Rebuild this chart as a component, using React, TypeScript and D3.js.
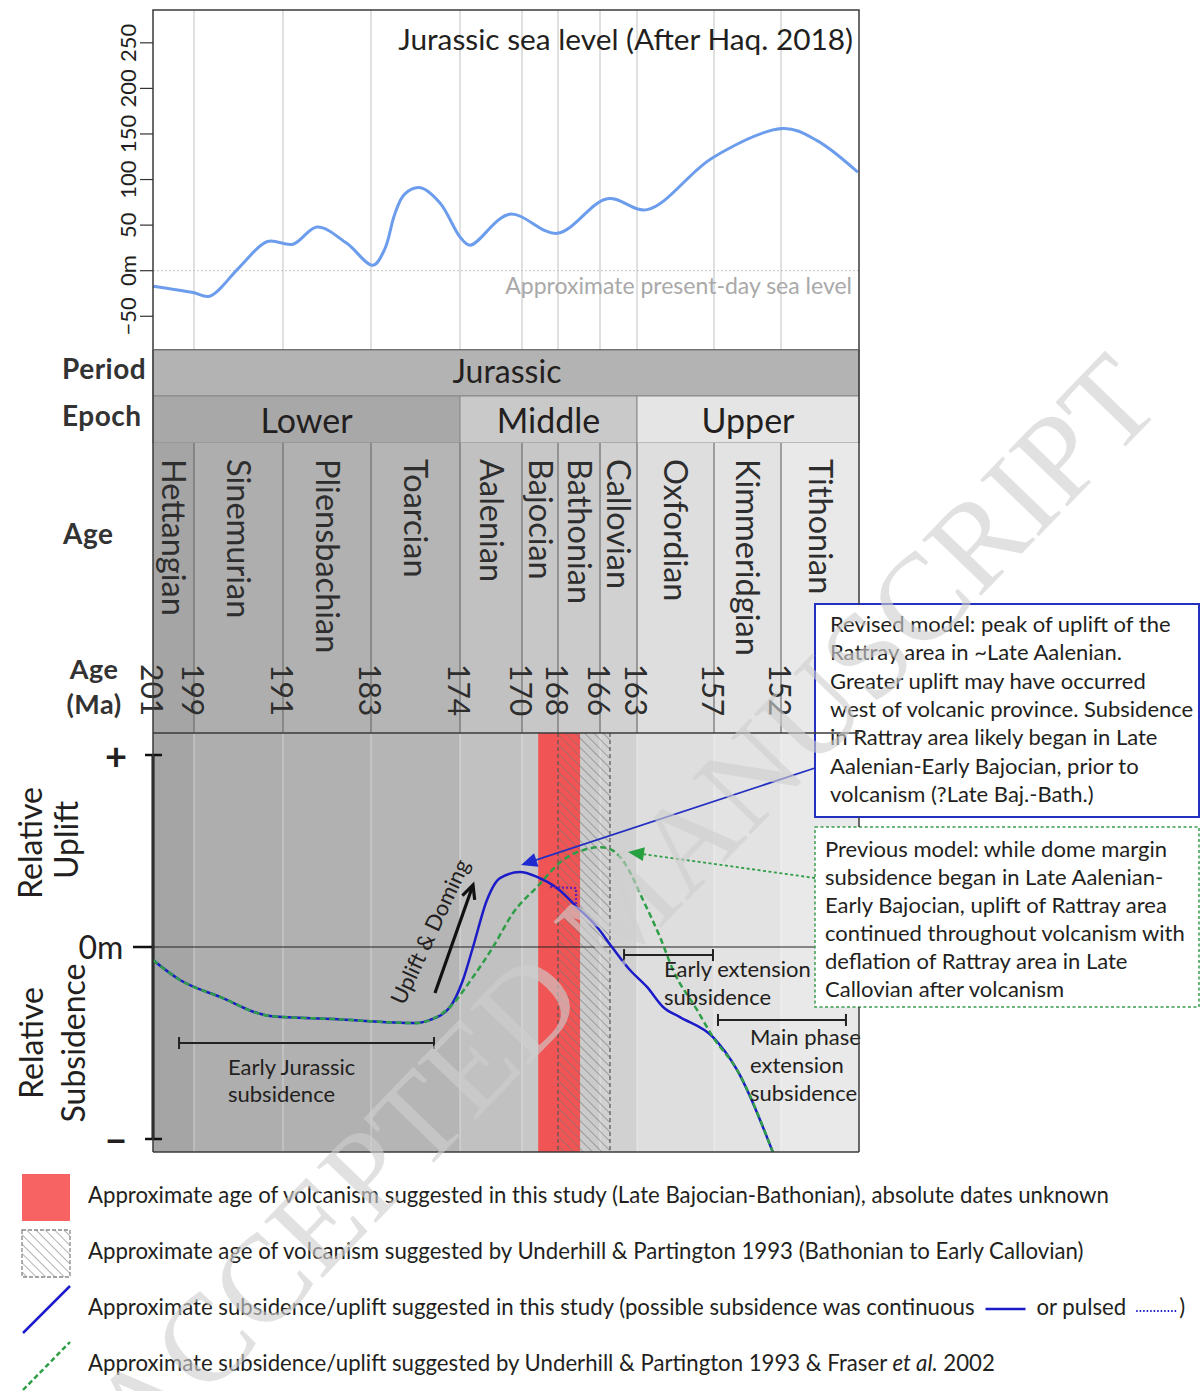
import React, { useEffect, useRef } from "react";
import * as d3 from "d3";

// ---------------- Data ----------------
const stageNames = ["Hettangian", "Sinemurian", "Pliensbachian", "Toarcian", "Aalenian", "Bajocian", "Bathonian", "Callovian", "Oxfordian", "Kimmeridgian", "Tithonian"];
const stageBaseMa = [201, 199, 191, 183, 174, 170, 168, 166, 163, 157, 152];
const jurassicTopMa = 145;
const epochNames = ["Lower", "Middle", "Upper"];
const epochBaseMa = [201, 174, 163];
const epochTopMa = [174, 163, 145];
const ageLabelsMa = [201, 199, 191, 183, 174, 170, 168, 166, 163, 157, 152];

// Haq 2018 sea level (m) vs age (Ma)
const seaLevelMa = [201, 199.05, 197.6, 194.9, 192.4, 190.1, 187.9, 185.2, 182.8, 181.6, 180.6, 179.6, 178.0, 176.0, 174.0, 173.35, 170.8, 168.05, 165.4, 162.2, 157.1, 151.8, 148.8, 145.1];
const seaLevelM = [-17, -24, -28, 4, 32, 29, 48, 30, 6, 24, 62, 84, 91, 74, 37, 28, 62, 41, 79, 67, 124, 156, 143, 108];
const seaLevelTicks = [-50, 0, 50, 100, 150, 200, 250];
const seaLevelTickLabels = ["\u221250", "0m", "50", "100", "150", "200", "250"];

// Relative uplift (+1 = top, -1 = bottom) — this study
const revisedMa = [201, 199.68, 196.66, 192.17, 186.45, 178.35, 177.03, 175.01, 173.81, 173.16, 172.26, 171.42, 170.13, 169.17, 168.06, 167.1, 166.14, 165.03, 163.57, 162.22, 160.97, 159.65, 157.08, 155.28, 152.6];
const revisedUplift = [-0.068, -0.172, -0.26, -0.359, -0.375, -0.396, -0.38, -0.3125, -0.172, 0, 0.245, 0.359, 0.39, 0.365, 0.307, 0.208, 0.104, 0, -0.12, -0.208, -0.3125, -0.365, -0.469, -0.64, -1.07];
// Previous model (Underhill & Partington 1993, Fraser et al. 2002)
const previousMa = [201, 199.68, 196.66, 192.17, 186.45, 178.35, 177.03, 175.01, 173.16, 171.87, 170.58, 169.17, 167.76, 166.62, 166, 165.03, 163.81, 162.53, 161.21, 160.19, 158.32, 157.08, 155.28, 152.6];
const previousUplift = [-0.068, -0.172, -0.26, -0.359, -0.375, -0.396, -0.38, -0.3125, -0.156, 0, 0.177, 0.3125, 0.453, 0.51, 0.52, 0.505, 0.417, 0.245, 0.052, -0.12, -0.328, -0.469, -0.64, -1.07];
// Pulsed alternative
const pulsedMa = [168.44, 167.14, 167.14];
const pulsedUplift = [0.3125, 0.307, 0.219];

const volcanismThisStudyMa = [169.1, 166.95];
const volcanismUnderhillMa = [168, 165.19];

const earlyJurassicSubsMa = [199.73, 176.63];
const earlyExtensionMa = [164.05, 157.08];
const mainPhaseMa = [156.7, 146.17];

const revisedBoxLines = [
  "Revised model: peak of uplift of the",
  "Rattray area in ~Late Aalenian.",
  "Greater uplift may have occurred",
  "west of volcanic province. Subsidence",
  "in Rattray area likely began in Late",
  "Aalenian-Early Bajocian, prior to",
  "volcanism (?Late Baj.-Bath.)",
];
const previousBoxLines = [
  "Previous model: while dome margin",
  "subsidence began in Late Aalenian-",
  "Early Bajocian, uplift of Rattray area",
  "continued throughout volcanism with",
  "deflation of Rattray area in Late",
  "Callovian after volcanism",
];

// ---------------- Style ----------------
const FONT = "Lato, 'Open Sans', 'DejaVu Sans', sans-serif";
const TXT = "#231f20";
const stageFills = ["#a5a5a5", "#aeaeae", "#b1b1b1", "#b5b5b5", "#c1c1c1", "#c7c7c7", "#cbcbcb", "#d1d1d1", "#dedede", "#e3e3e3", "#e9e9e9"];
const epochFills = ["#a8a8a8", "#c9c9c9", "#e5e5e5"];
const BLUE = "#1b1bc8";
const GREEN = "#2f9e48";
const RED = "#f05454";

export default function App() {
  const ref = useRef<SVGSVGElement>(null);

  useEffect(() => {
    const svg = d3.select(ref.current!);
    svg.selectAll("*").remove();

    const stageEdgesPx = [153, 194, 283, 371, 460, 522, 558, 600, 637, 714, 781, 859];
    const x = d3.scaleLinear().domain([...stageBaseMa, jurassicTopMa]).range(stageEdgesPx);
    const L = x(201), R = x(jurassicTopMa);
    const topY0 = 10, topY1 = 350;
    const periodY1 = 396, epochY1 = 443, ageY1 = 733, botY1 = 1152;
    const ySea = d3.scaleLinear().domain([-87, 286]).range([topY1, topY0]);
    const yUp = d3.scaleLinear().domain([-1, 1]).range([1139, 755]);

    const defs = svg.append("defs");
    const pat = defs.append("pattern").attr("id", "hatch").attr("patternUnits", "userSpaceOnUse")
      .attr("width", 6.6).attr("height", 6.6).attr("patternTransform", "rotate(-45)");
    pat.append("line").attr("x1", 0).attr("y1", 0).attr("x2", 0).attr("y2", 6.6)
      .attr("stroke", "#747474").attr("stroke-width", 1.1);
    defs.append("clipPath").attr("id", "botclip").append("rect")
      .attr("x", L).attr("y", ageY1).attr("width", R - L).attr("height", botY1 - ageY1);
    defs.append("clipPath").attr("id", "topclip").append("rect")
      .attr("x", L).attr("y", topY0).attr("width", R - L).attr("height", topY1 - topY0);

    const text = (g: any, tx: number, ty: number, s: string, size: number, opts: any = {}) => {
      const t = g.append("text").attr("x", tx).attr("y", ty).text(s)
        .attr("font-family", FONT).attr("font-size", size).attr("fill", opts.fill || TXT);
      if (opts.anchor) t.attr("text-anchor", opts.anchor);
      if (opts.weight) t.attr("font-weight", opts.weight);
      if (opts.transform) t.attr("transform", opts.transform);
      if (opts.baseline) t.attr("dominant-baseline", opts.baseline);
      if (opts.ls) t.attr("letter-spacing", opts.ls);
      return t;
    };

    // ---------- Top chart: sea level ----------
    const top = svg.append("g");
    top.append("rect").attr("x", L).attr("y", topY0).attr("width", R - L).attr("height", topY1 - topY0).attr("fill", "#fff");
    top.selectAll("line.grid").data(stageBaseMa.slice(1)).enter().append("line")
      .attr("x1", (d) => x(d)).attr("x2", (d) => x(d)).attr("y1", topY0).attr("y2", topY1)
      .attr("stroke", "#d6d6d6").attr("stroke-width", 1.5);
    top.append("line").attr("x1", L).attr("x2", R).attr("y1", ySea(0)).attr("y2", ySea(0))
      .attr("stroke", "#c4c4c4").attr("stroke-width", 1).attr("stroke-dasharray", "2,2");
    text(top, 852, ySea(0) + 23, "Approximate present-day sea level", 23, { anchor: "end", fill: "#a9a9a9" });
    text(top, 853, 50, "Jurassic sea level (After Haq. 2018)", 29.8, { anchor: "end" });
    const seaLine = d3.line<number>().x((_, i) => x(seaLevelMa[i])).y((d) => ySea(d)).curve(d3.curveCatmullRom.alpha(0.5));
    top.append("path").attr("d", seaLine(seaLevelM)).attr("fill", "none").attr("stroke", "#6c9ded")
      .attr("stroke-width", 3).attr("clip-path", "url(#topclip)");
    top.append("rect").attr("x", L).attr("y", topY0).attr("width", R - L).attr("height", topY1 - topY0)
      .attr("fill", "none").attr("stroke", "#3a3a3a").attr("stroke-width", 1.5);
    seaLevelTicks.forEach((v, i) => {
      top.append("line").attr("x1", 140).attr("x2", L).attr("y1", ySea(v)).attr("y2", ySea(v)).attr("stroke", "#333").attr("stroke-width", 1.2);
      text(top, 0, 0, seaLevelTickLabels[i], 22, { anchor: "middle", baseline: "central", transform: `translate(127,${ySea(v)}) rotate(-90)` });
    });

    // ---------- Stratigraphy rows ----------
    const strat = svg.append("g");
    strat.append("rect").attr("x", L).attr("y", topY1).attr("width", R - L).attr("height", periodY1 - topY1)
      .attr("fill", "#b3b3b3").attr("stroke", "#7a7a7a").attr("stroke-width", 1);
    text(strat, 507, 383, "Jurassic", 32, { anchor: "middle" });
    epochNames.forEach((n, i) => {
      const x0 = x(epochBaseMa[i]), x1 = x(epochTopMa[i]);
      strat.append("rect").attr("x", x0).attr("y", periodY1).attr("width", x1 - x0).attr("height", epochY1 - periodY1)
        .attr("fill", epochFills[i]).attr("stroke", "#8a8a8a").attr("stroke-width", 1);
      text(strat, (x0 + x1) / 2, 433, n, 34, { anchor: "middle" });
    });
    stageNames.forEach((n, i) => {
      const x0 = x(stageBaseMa[i]);
      const x1 = x(i < stageNames.length - 1 ? stageBaseMa[i + 1] : jurassicTopMa);
      strat.append("rect").attr("x", x0).attr("y", epochY1).attr("width", x1 - x0).attr("height", ageY1 - epochY1)
        .attr("fill", stageFills[i]);
      strat.append("rect").attr("x", x0).attr("y", ageY1).attr("width", x1 - x0).attr("height", botY1 - ageY1)
        .attr("fill", stageFills[i]);
      text(strat, 0, 0, n, 32.5, { baseline: "central", fill: "#2e2e2e", transform: `translate(${(x0 + x1) / 2 + 1},459) rotate(90)` });
    });
    stageBaseMa.slice(1).forEach((m) => {
      strat.append("line").attr("x1", x(m)).attr("x2", x(m)).attr("y1", epochY1).attr("y2", ageY1).attr("stroke", "#6e6e6e").attr("stroke-width", 1.2);
      strat.append("line").attr("x1", x(m)).attr("x2", x(m)).attr("y1", ageY1).attr("y2", botY1).attr("stroke", "rgba(255,255,255,0.3)").attr("stroke-width", 1.5);
    });
    ageLabelsMa.forEach((m) => {
      text(strat, 0, 0, String(m), 30, { baseline: "central", fill: "#2e2e2e", transform: `translate(${x(m)},664) rotate(90)` });
    });
    // row labels
    text(strat, 62, 379, "Period", 28, { weight: "bold", fill: "#333", ls: 0.5 });
    text(strat, 62, 426, "Epoch", 28, { weight: "bold", fill: "#333", ls: 0.5 });
    text(strat, 63, 544, "Age", 28, { weight: "bold", fill: "#333", ls: 0.5 });
    text(strat, 94, 679, "Age", 27, { weight: "bold", fill: "#333", anchor: "middle", ls: 0.5 });
    text(strat, 94, 714, "(Ma)", 27, { weight: "bold", fill: "#333", anchor: "middle", ls: 0.5 });

    // ---------- Bottom chart ----------
    const bot = svg.append("g");
    const b0 = x(volcanismThisStudyMa[0]), b1 = x(volcanismThisStudyMa[1]);
    bot.append("rect").attr("x", b0).attr("y", ageY1).attr("width", b1 - b0).attr("height", botY1 - ageY1).attr("fill", RED);
    const h0 = x(volcanismUnderhillMa[0]), h1 = x(volcanismUnderhillMa[1]);
    bot.append("rect").attr("x", h0).attr("y", ageY1).attr("width", h1 - h0).attr("height", botY1 - ageY1).attr("fill", "url(#hatch)");
    [h0, h1].forEach((hx) => bot.append("line").attr("x1", hx).attr("x2", hx).attr("y1", ageY1).attr("y2", botY1)
      .attr("stroke", "#555").attr("stroke-width", 1.2).attr("stroke-dasharray", "4,3"));

    // zero line
    bot.append("line").attr("x1", 133).attr("x2", 815).attr("y1", yUp(0)).attr("y2", yUp(0)).attr("stroke", "#222").attr("stroke-width", 1.2);
    bot.append("line").attr("x1", 133).attr("x2", L).attr("y1", yUp(0)).attr("y2", yUp(0)).attr("stroke", "#111").attr("stroke-width", 2.5);
    // axis
    bot.append("line").attr("x1", L).attr("x2", L).attr("y1", yUp(1)).attr("y2", yUp(-1)).attr("stroke", "#111").attr("stroke-width", 3);
    [1, -1].forEach((v) => bot.append("line").attr("x1", 145).attr("x2", 162).attr("y1", yUp(v)).attr("y2", yUp(v)).attr("stroke", "#111").attr("stroke-width", 2.5));
    text(bot, 116, yUp(1), "+", 38, { anchor: "middle", baseline: "central", weight: "bold" });
    text(bot, 116, yUp(-1), "\u2212", 38, { anchor: "middle", baseline: "central", weight: "bold" });
    text(bot, 101, yUp(0) + 12, "0m", 32, { anchor: "middle" });
    text(bot, 0, 0, "Relative", 32, { anchor: "middle", transform: `translate(42,843) rotate(-90)` });
    text(bot, 0, 0, "Uplift", 32, { anchor: "middle", transform: `translate(78,840) rotate(-90)` });
    text(bot, 0, 0, "Relative", 32, { anchor: "middle", transform: `translate(43,1043) rotate(-90)` });
    text(bot, 0, 0, "Subsidence", 32, { anchor: "middle", transform: `translate(85,1043) rotate(-90)` });

    // curves
    const curves = bot.append("g").attr("clip-path", "url(#botclip)");
    const lineRev = d3.line<number>().x((_, i) => x(revisedMa[i])).y((d) => yUp(d)).curve(d3.curveMonotoneX);
    const linePrev = d3.line<number>().x((_, i) => x(previousMa[i])).y((d) => yUp(d)).curve(d3.curveMonotoneX);
    const linePulse = d3.line<number>().x((_, i) => x(pulsedMa[i])).y((d) => yUp(d));
    curves.append("path").attr("d", lineRev(revisedUplift)).attr("fill", "none").attr("stroke", BLUE).attr("stroke-width", 2.5);
    curves.append("path").attr("d", linePrev(previousUplift)).attr("fill", "none").attr("stroke", GREEN).attr("stroke-width", 2.5).attr("stroke-dasharray", "6,3.5");
    curves.append("path").attr("d", linePulse(pulsedUplift)).attr("fill", "none").attr("stroke", "#6a1fb0").attr("stroke-width", 2.2).attr("stroke-dasharray", "2,2");

    // range bars
    const rangeBar = (r: number[], u: number) => {
      const y0 = yUp(u);
      bot.append("line").attr("x1", x(r[0])).attr("x2", x(r[1])).attr("y1", y0).attr("y2", y0).attr("stroke", "#222").attr("stroke-width", 2);
      r.forEach((m) => bot.append("line").attr("x1", x(m)).attr("x2", x(m)).attr("y1", y0 - 6).attr("y2", y0 + 6).attr("stroke", "#222").attr("stroke-width", 2));
    };
    rangeBar(earlyJurassicSubsMa, -0.5);
    rangeBar(earlyExtensionMa, -0.042);
    rangeBar(mainPhaseMa, -0.38);
    text(bot, 228, 1075, "Early Jurassic", 22);
    text(bot, 228, 1102, "subsidence", 22);
    text(bot, 664, 977, "Early extension", 22);
    text(bot, 664, 1005, "subsidence", 22);
    text(bot, 750, 1045, "Main phase", 22);
    text(bot, 750, 1073, "extension", 22);
    text(bot, 750, 1101, "subsidence", 22);

    // Uplift & Doming arrow
    const ax0 = x(176.53), ay0 = yUp(-0.24), ax1 = x(173.16), ay1 = yUp(0.323);
    bot.append("line").attr("x1", ax0).attr("y1", ay0).attr("x2", ax1).attr("y2", ay1).attr("stroke", "#111").attr("stroke-width", 3.2);
    {
      const ang = Math.atan2(ay1 - ay0, ax1 - ax0);
      const hl = 15;
      const p1 = [ax1 - hl * Math.cos(ang - 0.45), ay1 - hl * Math.sin(ang - 0.45)];
      const p2 = [ax1 - hl * Math.cos(ang + 0.45), ay1 - hl * Math.sin(ang + 0.45)];
      bot.append("path").attr("d", `M${p1[0]},${p1[1]}L${ax1},${ay1}L${p2[0]},${p2[1]}`).attr("fill", "none").attr("stroke", "#111").attr("stroke-width", 3.2).attr("stroke-linejoin", "miter");
    }
    text(bot, 0, 0, "Uplift & Doming", 22, { transform: `translate(404,1006) rotate(-65)` });

    // ---------- Boxes ----------
    const boxes = svg.append("g");
    const arrowHead = (g: any, tipX: number, tipY: number, fromX: number, fromY: number, color: string, len: number, hw: number) => {
      const ang = Math.atan2(tipY - fromY, tipX - fromX);
      const bx = tipX - len * Math.cos(ang), by = tipY - len * Math.sin(ang);
      const nx = -Math.sin(ang) * hw, ny = Math.cos(ang) * hw;
      g.append("path").attr("d", `M${tipX},${tipY}L${bx + nx},${by + ny}L${bx - nx},${by - ny}Z`).attr("fill", color);
    };
    const btx = x(170.06), bty = yUp(0.427);
    boxes.append("line").attr("x1", 815).attr("y1", 768).attr("x2", btx + 10).attr("y2", bty - 3.3).attr("stroke", "#2430c0").attr("stroke-width", 1.8);
    arrowHead(boxes, btx, bty, 815, 768, "#1f2bd0", 16, 7);
    const gtx = x(163.73), gty = yUp(0.495);
    boxes.append("line").attr("x1", 815).attr("y1", 878).attr("x2", gtx + 12).attr("y2", gty + 1.7).attr("stroke", GREEN).attr("stroke-width", 1.8).attr("stroke-dasharray", "3,2.5");
    arrowHead(boxes, gtx, gty, 815, 878, "#27a040", 16, 7);

    boxes.append("rect").attr("x", 815).attr("y", 604).attr("width", 384).attr("height", 213).attr("fill", "#fff").attr("stroke", "#2430c0").attr("stroke-width", 2);
    revisedBoxLines.forEach((s, i) => text(boxes, 830, 632 + i * 28.3, s, 22));
    boxes.append("rect").attr("x", 815).attr("y", 827).attr("width", 384).attr("height", 180).attr("fill", "#fff").attr("stroke", "#3a9d4e").attr("stroke-width", 1.5).attr("stroke-dasharray", "3,2.5");
    previousBoxLines.forEach((s, i) => text(boxes, 825, 857 + i * 28, s, 22));

    // frames for lower part
    const fr = svg.append("g");
    fr.append("line").attr("x1", L).attr("x2", R).attr("y1", ageY1).attr("y2", ageY1).attr("stroke", "#3a3a3a").attr("stroke-width", 1.5);
    fr.append("line").attr("x1", L).attr("x2", R).attr("y1", botY1).attr("y2", botY1).attr("stroke", "#3a3a3a").attr("stroke-width", 1.5);
    fr.append("line").attr("x1", L).attr("x2", L).attr("y1", topY1).attr("y2", botY1).attr("stroke", "#3a3a3a").attr("stroke-width", 1.5);
    fr.append("line").attr("x1", R).attr("x2", R).attr("y1", topY1).attr("y2", 604).attr("stroke", "#3a3a3a").attr("stroke-width", 1.5);
    fr.append("line").attr("x1", R).attr("x2", R).attr("y1", 817).attr("y2", 827).attr("stroke", "#3a3a3a").attr("stroke-width", 1.5);
    fr.append("line").attr("x1", R).attr("x2", R).attr("y1", 1007).attr("y2", botY1).attr("stroke", "#3a3a3a").attr("stroke-width", 1.5);

    // ---------- Legend ----------
    const lg = svg.append("g");
    const LS = 22.2;
    lg.append("rect").attr("x", 22).attr("y", 1174).attr("width", 48).attr("height", 47).attr("fill", "#f76262");
    lg.append("rect").attr("x", 22).attr("y", 1230).attr("width", 48).attr("height", 47).attr("fill", "url(#hatch)").attr("stroke", "#888").attr("stroke-width", 1.3).attr("stroke-dasharray", "4,2");
    lg.append("line").attr("x1", 23).attr("y1", 1333).attr("x2", 70).attr("y2", 1286).attr("stroke", BLUE).attr("stroke-width", 2.5);
    lg.append("line").attr("x1", 23).attr("y1", 1390).attr("x2", 70).attr("y2", 1342).attr("stroke", GREEN).attr("stroke-width", 2.5).attr("stroke-dasharray", "5,3");
    text(lg, 88, 1203, "Approximate age of volcanism suggested in this study (Late Bajocian-Bathonian), absolute dates unknown", LS);
    text(lg, 88, 1259, "Approximate age of volcanism suggested by Underhill & Partington 1993 (Bathonian to Early Callovian)", LS);
    const t3 = text(lg, 88, 1315, "Approximate subsidence/uplift suggested in this study (possible subsidence was continuous", LS);
    const w3 = (t3.node() as SVGTextElement).getComputedTextLength();
    let cx = 88 + w3 + 11;
    lg.append("line").attr("x1", cx).attr("x2", cx + 40).attr("y1", 1309).attr("y2", 1309).attr("stroke", BLUE).attr("stroke-width", 2.5);
    cx += 51;
    const t4 = text(lg, cx, 1315, "or pulsed", LS);
    cx += (t4.node() as SVGTextElement).getComputedTextLength() + 10;
    lg.append("line").attr("x1", cx).attr("x2", cx + 40).attr("y1", 1311).attr("y2", 1311).attr("stroke", BLUE).attr("stroke-width", 2).attr("stroke-dasharray", "1.5,2");
    text(lg, cx + 43, 1315, ")", LS);
    const t5 = text(lg, 88, 1371, "Approximate subsidence/uplift suggested by Underhill & Partington 1993 & Fraser ", LS);
    t5.append("tspan").attr("font-style", "italic").text("et al.");
    t5.append("tspan").text(" 2002");

    // ---------- Watermark ----------
    svg.append("text").attr("transform", "translate(624,906) rotate(-46)")
      .attr("text-anchor", "middle").attr("dominant-baseline", "central")
      .attr("font-family", "'Liberation Serif', 'DejaVu Serif', serif").attr("font-size", 124)
      .attr("fill", "#cfcfcf").attr("fill-opacity", 0.62)
      .text("ACCEPTED MANUSCRIPT");
  }, []);

  return (
    <svg ref={ref} width={1202} height={1391} style={{ position: "absolute", left: 0, top: 0, background: "#fff" }} />
  );
}
